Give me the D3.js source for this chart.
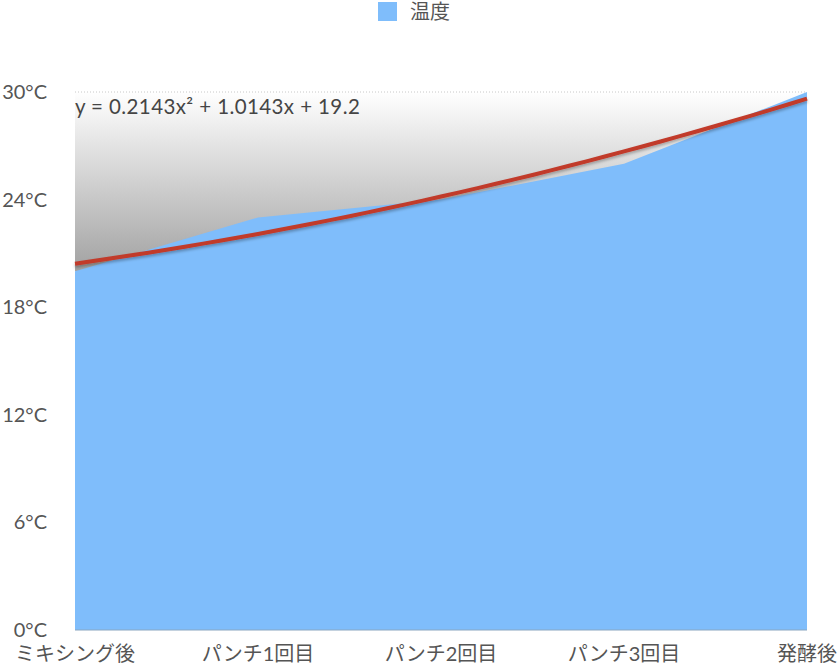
<!DOCTYPE html>
<html>
<head>
<meta charset="utf-8">
<script src="https://cdn.jsdelivr.net/npm/d3@7"></script>
<style>
  body { margin: 0; background: #fff; }
  text { font-family: Lato, "Noto Sans CJK JP", sans-serif; }
</style>
</head>
<body>
<div id="chart"></div>
<script>
// data
const categories = ["ミキシング後", "パンチ1回目", "パンチ2回目", "パンチ3回目", "発酵後"];
const temps = [20, 23, 24, 26, 30];
const yTicks = [0, 6, 12, 18, 24, 30];
const trendCoef = [0.2143, 1.0143, 19.2]; // a x^2 + b x + c, x = 1..5
const seriesName = "温度";

const W = 839, H = 670;
const margin = { top: 92, right: 32, bottom: 40, left: 75 };
const width = W - margin.left - margin.right,
    height = H - margin.top - margin.bottom;

const svg = d3.select("#chart").append("svg")
    .attr("width", W)
    .attr("height", H);

const defs = svg.append("defs");
const grad = defs.append("linearGradient")
    .attr("id", "bgGrad")
    .attr("x1", 0).attr("y1", 0).attr("x2", 0).attr("y2", 1);
grad.append("stop").attr("offset", "0%").attr("stop-color", "#ffffff");
grad.append("stop").attr("offset", "100%").attr("stop-color", "#a2a2a2");

const shadow = defs.append("filter").attr("id", "shadow")
    .attr("x", "-5%").attr("y", "-50%").attr("width", "110%").attr("height", "200%");
shadow.append("feDropShadow")
    .attr("dx", 0).attr("dy", 2).attr("stdDeviation", 1.5)
    .attr("flood-color", "#000").attr("flood-opacity", 0.3);

const g = svg.append("g")
    .attr("transform", `translate(${margin.left},${margin.top})`);

const x = d3.scalePoint()
    .domain(categories)
    .range([0, width]);

const y = d3.scaleLinear()
    .domain([0, 30])
    .range([height, 0]);

// grey background from top line down to the lowest value
g.append("rect")
    .attr("x", 0)
    .attr("y", y(30))
    .attr("width", width)
    .attr("height", y(d3.min(temps)) - y(30))
    .attr("fill", "url(#bgGrad)");

// dotted gridlines
g.selectAll(".grid")
    .data(yTicks.filter(d => d > 0))
    .enter()
    .append("line")
    .attr("x1", 0)
    .attr("x2", width)
    .attr("y1", d => y(d))
    .attr("y2", d => y(d))
    .attr("stroke", "#c8c8c8")
    .attr("stroke-width", 1)
    .attr("stroke-dasharray", "1,2");

// area
const area = d3.area()
    .x((d, i) => x(categories[i]))
    .y0(y(0))
    .y1(d => y(d));

g.append("path")
    .datum(temps)
    .attr("d", area)
    .attr("fill", "#7fbdfb");

// baseline
g.append("line")
    .attr("x1", 0).attr("x2", width)
    .attr("y1", y(0)).attr("y2", y(0))
    .attr("stroke", "#8aa6c0")
    .attr("stroke-width", 1);

// trend line
const xi = d3.scaleLinear().domain([1, categories.length]).range([0, width]);
const trendPts = d3.range(1, categories.length + 0.001, 0.1).map(t =>
    [t, trendCoef[0] * t * t + trendCoef[1] * t + trendCoef[2]]);

g.append("path")
    .datum(trendPts)
    .attr("d", d3.line().x(d => xi(d[0])).y(d => y(d[1])))
    .attr("fill", "none")
    .attr("stroke", "#c13a2b")
    .attr("stroke-width", 4)
    .attr("filter", "url(#shadow)");

// equation text
g.append("text")
    .attr("x", 0)
    .attr("y", y(30) + 22)
    .style("font-size", "20.5px")
    .style("letter-spacing", "0.4px")
    .style("fill", "#454545")
    .text(`y = ${trendCoef[0]}x² + ${trendCoef[1]}x + ${trendCoef[2]}`);

// y axis labels
g.selectAll(".ylab")
    .data(yTicks)
    .enter()
    .append("text")
    .attr("x", -28)
    .attr("y", d => y(d))
    .attr("dy", "0.35em")
    .attr("text-anchor", "end")
    .style("font-size", "20px")
    .style("fill", "#555")
    .text(d => d + "°C");

// x axis labels
g.selectAll(".xlab")
    .data(categories)
    .enter()
    .append("text")
    .attr("x", d => x(d))
    .attr("y", height + 24)
    .attr("dy", "0.35em")
    .attr("text-anchor", "middle")
    .style("font-size", "20px")
    .style("fill", "#555")
    .text(d => d)
    .each(function () {
        const b = this.getBBox();
        const absLeft = b.x + margin.left;
        const absRight = absLeft + b.width;
        if (absLeft < 0) d3.select(this).attr("x", +d3.select(this).attr("x") - absLeft);
        if (absRight > W - 1) d3.select(this).attr("x", +d3.select(this).attr("x") - (absRight - W + 1));
    });

// legend
const legend = svg.append("g").attr("transform", "translate(378,2)");
legend.append("rect")
    .attr("width", 19).attr("height", 19)
    .attr("fill", "#7fbdfb");
legend.append("text")
    .attr("x", 32)
    .attr("y", 10)
    .attr("dy", "0.35em")
    .style("font-size", "20px")
    .style("fill", "#555")
    .text(seriesName);
</script>
</body>
</html>
